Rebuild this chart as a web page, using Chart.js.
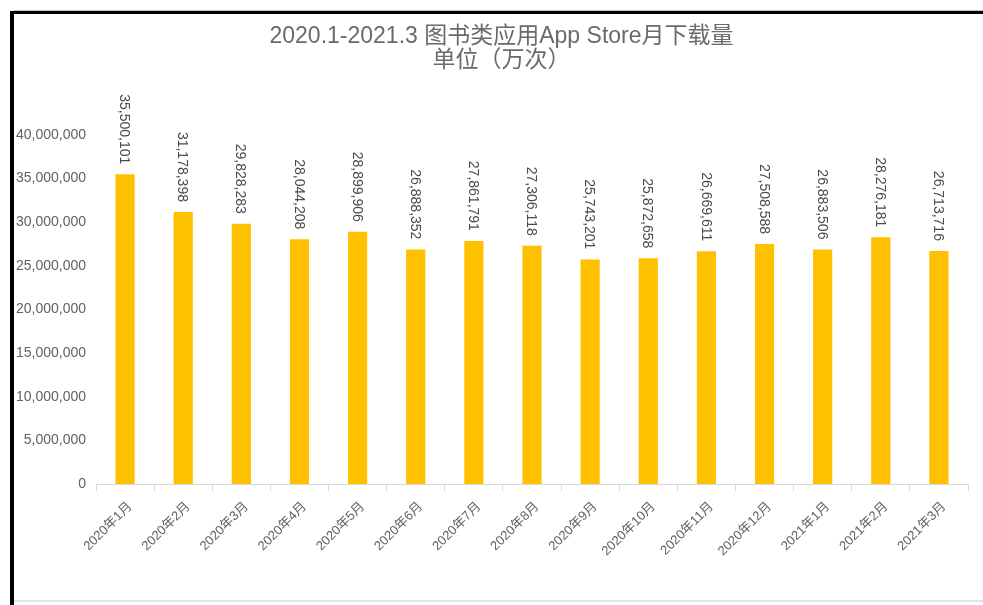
<!DOCTYPE html>
<html>
<head>
<meta charset="utf-8">
<script src="https://cdn.jsdelivr.net/npm/chart.js@4"></script>
<style>
  html, body { margin: 0; padding: 0; background: #fff; }
  body { width: 983px; height: 605px; position: relative; overflow: hidden; }
  .line-top-faint { position: absolute; left: 13px; top: 10px; width: 970px; height: 1px; background: #c8c8c8; }
  .line-top { position: absolute; left: 10px; top: 11px; width: 973px; height: 3px; background: #000; }
  .line-left { position: absolute; left: 10px; top: 11px; width: 4px; height: 594px; background: #000; }
  .line-bottom { position: absolute; left: 14px; top: 600px; width: 969px; height: 2px; background: #e3e3e3; }
  #wrap { position: absolute; left: 14px; top: 14px; width: 969px; height: 585px; }
</style>
</head>
<body>
<div class="line-top-faint"></div>
<div class="line-top"></div>
<div class="line-left"></div>
<div class="line-bottom"></div>
<div id="wrap"><canvas id="chart"></canvas></div>
<script>
// 月份与下载量
const months = ['2020年1月', '2020年2月', '2020年3月', '2020年4月', '2020年5月', '2020年6月',
                '2020年7月', '2020年8月', '2020年9月', '2020年10月', '2020年11月', '2020年12月',
                '2021年1月', '2021年2月', '2021年3月'];
const downloads = [35500101, 31178398, 29828283, 28044208, 28899906, 26888352, 27861791,
                   27306118, 25743201, 25872658, 26669611, 27508588, 26883506, 28276181, 26713716];
const yTicks = [0, 5000000, 10000000, 15000000, 20000000, 25000000, 30000000, 35000000, 40000000];
const titleLines = ['2020.1-2021.3 图书类应用App Store月下载量', '单位（万次）'];

const fontFamily = '"Liberation Sans", "Noto Sans CJK SC", sans-serif';
const txtColor = '#626262';

// 标题（两行，略偏右居中）
const titleText = {
  id: 'titleText',
  afterDraw(chart) {
    const ctx = chart.ctx;
    ctx.save();
    ctx.font = '23px ' + fontFamily;
    ctx.fillStyle = '#6a6a6a';
    ctx.textAlign = 'center';
    ctx.textBaseline = 'middle';
    titleLines.forEach((t, i) => ctx.fillText(t, 487.5, 23 + i * 24));
    ctx.restore();
  }
};

// 竖排数值标签
const valueLabels = {
  id: 'valueLabels',
  afterDatasetsDraw(chart) {
    const ctx = chart.ctx;
    const meta = chart.getDatasetMeta(0);
    ctx.save();
    ctx.font = '14px ' + fontFamily;
    ctx.fillStyle = '#4a4a4a';
    ctx.textAlign = 'right';
    ctx.textBaseline = 'middle';
    meta.data.forEach((bar, i) => {
      ctx.save();
      ctx.translate(bar.x - 1, bar.y - 10);
      ctx.rotate(Math.PI / 2);
      ctx.fillText(downloads[i].toLocaleString('en-US'), 0, 0);
      ctx.restore();
    });
    ctx.restore();
  }
};

new Chart(document.getElementById('chart'), {
  type: 'bar',
  data: {
    labels: months,
    datasets: [{
      data: downloads,
      backgroundColor: '#FFC000',
      barPercentage: 0.33,
      categoryPercentage: 1
    }]
  },
  options: {
    responsive: true,
    maintainAspectRatio: false,
    animation: false,
    layout: { padding: { left: 0, right: 15, top: 121, bottom: 0 } },
    plugins: {
      legend: { display: false },
      tooltip: { enabled: false },
      title: { display: false }
    },
    scales: {
      y: {
        min: 0,
        max: 40000000,
        afterBuildTicks: s => { s.ticks = yTicks.map(v => ({ value: v })); },
        afterFit: s => { s.width = 82; },
        grid: { display: false, drawTicks: false },
        border: { display: false },
        ticks: {
          color: txtColor,
          padding: 10,
          font: { size: 14, family: fontFamily },
          callback: v => v.toLocaleString('en-US')
        }
      },
      x: {
        afterFit: s => { s.height = 115; },
        grid: { offset: true, drawOnChartArea: false, drawTicks: true, tickLength: 7, color: '#d9d9d9' },
        border: { display: true, color: '#d9d9d9' },
        ticks: {
          color: txtColor,
          maxRotation: 45,
          minRotation: 45,
          autoSkip: false,
          padding: 8,
          labelOffset: 5,
          font: { size: 13, family: fontFamily }
        }
      }
    }
  },
  plugins: [valueLabels, titleText]
});
</script>
</body>
</html>
